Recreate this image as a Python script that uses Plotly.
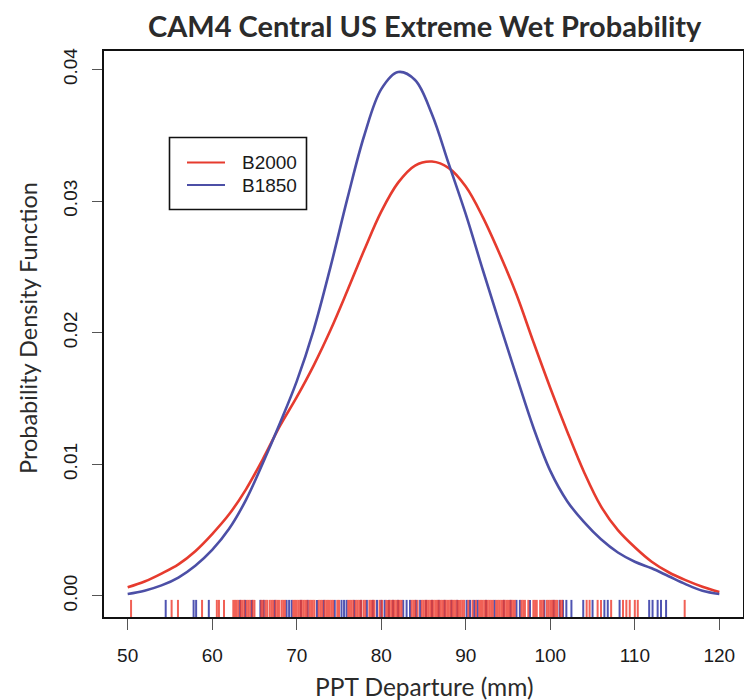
import plotly.graph_objects as go

# ---- Density curves ----
curve_x = [50, 52, 54, 56, 58, 60, 62, 64, 66, 68, 70, 72, 74, 76, 78, 80, 82, 84, 86, 88,
           90, 92, 94, 96, 98, 100, 102, 104, 106, 108, 110, 112, 114, 116, 118, 120]
b2000_y = [0.00066, 0.0011, 0.0017, 0.0024, 0.0034, 0.0047, 0.0062, 0.0081, 0.0104, 0.0129,
           0.0151, 0.0175, 0.0202, 0.0232, 0.0263, 0.0292, 0.0314, 0.0327, 0.0330, 0.0325,
           0.0311, 0.0288, 0.0260, 0.0229, 0.0193, 0.0158, 0.0125, 0.0094, 0.0068, 0.0050,
           0.0037, 0.0026, 0.0018, 0.0012, 0.0007, 0.0003]
b1850_y = [0.00015, 0.0004, 0.0008, 0.0014, 0.0023, 0.0035, 0.0051, 0.0073, 0.0101, 0.0131,
           0.0163, 0.0202, 0.0250, 0.0302, 0.0350, 0.0385, 0.0398, 0.0392, 0.0366, 0.0328,
           0.0290, 0.0248, 0.0207, 0.0167, 0.0128, 0.0095, 0.0072, 0.0056, 0.0043, 0.0033,
           0.0026, 0.0021, 0.0015, 0.0009, 0.0004, 0.00015]

# ---- Rug samples ----
b2000_rug = [50.4, 55.2, 55.95, 58.8, 60.55, 60.8, 61.4,
             62.5, 62.7, 62.9, 63.1, 63.4, 63.6, 63.8, 64.1, 64.3, 64.5, 64.8, 65.0, 65.8,
             66.0, 66.3, 66.5, 66.8, 67.0, 67.2, 67.5, 67.7, 67.9, 68.2, 68.4, 68.6, 69.6,
             69.8, 70.0, 70.2, 70.4, 70.6, 70.8, 71.0, 71.2, 71.5, 71.7, 71.9, 72.1, 72.6,
             72.8, 73.0, 73.3, 73.5, 73.7, 73.9, 74.1, 74.3, 74.8, 75.0, 76.1, 76.3, 76.5,
             76.7, 77.0, 77.2, 77.4, 77.6, 77.9, 78.1, 78.6, 78.8, 79.0, 79.2, 79.8, 80.1,
             80.6, 80.8, 81.0, 81.2, 81.4, 81.6, 81.8, 82.0, 82.2, 82.4, 83.6, 83.8, 84.0,
             84.3, 84.8, 85.0, 85.2, 85.4, 85.6, 85.8, 86.0, 86.2, 86.4, 86.6, 86.8, 87.0,
             87.2, 87.4, 87.6, 87.8, 88.0, 88.2, 88.4, 88.6, 88.8, 89.0, 89.2, 89.4, 89.6,
             89.8, 90.3, 90.8, 91.2, 91.6, 91.8, 92.0, 92.2, 92.4, 92.6, 92.8, 93.0, 93.2,
             93.6, 93.8, 94.0, 94.2, 94.4, 94.6, 94.8, 95.0, 95.2, 95.4, 95.6, 95.8, 96.6,
             96.8, 97.0, 97.4, 98.0, 98.2, 98.4, 98.8, 99.0, 99.2, 99.6, 99.8, 100.0, 100.2,
             100.4, 100.6, 100.8, 101.2, 101.4,
             104.3, 104.65, 105.6, 106.0, 107.2, 108.6, 109.0, 109.4, 110.0, 110.35, 115.9]
b1850_rug = [54.5, 57.8, 58.1, 59.6, 63.3, 63.9, 64.7, 65.7, 66.1, 67.4, 68.8, 69.1, 69.4,
             70.5, 71.3, 72.4, 73.2, 74.5, 75.3, 75.6, 75.9, 76.8, 77.6, 78.3, 79.0, 79.5,
             80.0, 80.4, 80.9, 81.4, 82.0, 82.6, 83.0, 83.4, 84.1, 84.6, 85.3, 86.0, 86.8,
             87.5, 88.3, 89.0, 90.1, 90.5, 91.0, 91.4, 92.4, 93.4, 94.5, 95.3, 96.0, 96.4,
             97.6, 99.3, 100.4, 101.1, 101.5, 101.9, 102.5, 103.9, 105.0, 106.4, 106.8, 108.2,
             111.7, 112.1, 112.7, 113.1, 113.7]

x_ticks = [50, 60, 70, 80, 90, 100, 110, 120]
y_ticks = [0.00, 0.01, 0.02, 0.03, 0.04]
y_tick_text = ["0.00", "0.01", "0.02", "0.03", "0.04"]

RED = "#e63b2e"
BLUE = "#4c4fa6"
RUG_RED = "#ee3a2c"
RUG_BLUE = "#4f54b2"

X_RANGE = [47.2, 122.8]
Y_RANGE = [-0.0016, 0.0414]
RUG_TOP = -0.0003


def rug_xy(vals):
    xs, ys = [], []
    for v in vals:
        xs += [v, v, None]
        ys += [Y_RANGE[0], RUG_TOP, None]
    return xs, ys


fig = go.Figure()
bx, by = rug_xy(b1850_rug)
fig.add_trace(go.Scatter(x=bx, y=by, mode="lines", line=dict(color=RUG_BLUE, width=2.0),
                         hoverinfo="skip", showlegend=False))
rx, ry = rug_xy(b2000_rug)
fig.add_trace(go.Scatter(x=rx, y=ry, mode="lines", line=dict(color=RUG_RED, width=2.0),
                         opacity=0.8, hoverinfo="skip", showlegend=False))

fig.add_trace(go.Scatter(x=curve_x, y=b2000_y, mode="lines", name="B2000",
                         line=dict(color=RED, width=2.6, shape="spline", smoothing=1.0)))
fig.add_trace(go.Scatter(x=curve_x, y=b1850_y, mode="lines", name="B1850",
                         line=dict(color=BLUE, width=2.6, shape="spline", smoothing=1.0)))

# page has an 8px body margin: figure pixel = screen pixel - 8
OFF = 8
L, R, T, B = 104 - OFF, 743 - OFF, 51 - OFF, 617 - OFF
W, H = R - L, B - T


def px(xp):
    return (xp - OFF - L) / W


def py(yp):
    return (B - (yp - OFF)) / H


shapes = [
    dict(type="rect", xref="paper", yref="paper", x0=px(169.5), x1=px(306.5),
         y0=py(209.5), y1=py(137.5), line=dict(color="#111", width=1.6), fillcolor="white"),
    dict(type="line", xref="paper", yref="paper", x0=px(187), x1=px(225),
         y0=py(162.5), y1=py(162.5), line=dict(color=RED, width=2.2)),
    dict(type="line", xref="paper", yref="paper", x0=px(187), x1=px(225),
         y0=py(185), y1=py(185), line=dict(color=BLUE, width=2.2)),
]

annotations = [
    dict(text="B2000", xref="paper", yref="paper", x=px(240), y=py(162.5), xanchor="left",
         yanchor="middle", showarrow=False,
         font=dict(family="Liberation Sans, Arial", size=19, color="#1a1a1a")),
    dict(text="B1850", xref="paper", yref="paper", x=px(240), y=py(185), xanchor="left",
         yanchor="middle", showarrow=False,
         font=dict(family="Liberation Sans, Arial", size=19, color="#1a1a1a")),
    dict(text="<b>CAM4 Central US Extreme Wet Probability</b>", xref="paper", yref="paper",
         x=px(425), y=py(25.5), xanchor="center", yanchor="middle", showarrow=False,
         font=dict(family="Lato, Open Sans", size=29, color="#2b2b2b")),
    dict(text="PPT Departure (mm)", xref="paper", yref="paper",
         x=px(424), y=py(686), xanchor="center", yanchor="middle", showarrow=False,
         font=dict(family="Lato, Open Sans", size=24.5, color="#2b2b2b")),
    dict(text="Probability Density Function", xref="paper", yref="paper",
         x=px(28), y=py(328), xanchor="center", yanchor="middle", showarrow=False,
         textangle=-90,
         font=dict(family="Lato, Open Sans", size=23.5, color="#2b2b2b")),
]

fig.update_layout(
    width=752, height=700,
    margin=dict(l=L, r=752 - R, t=T, b=700 - B),
    paper_bgcolor="white", plot_bgcolor="white",
    showlegend=False,
    shapes=shapes,
    annotations=annotations,
)
fig.update_xaxes(range=X_RANGE, tickvals=x_ticks, ticks="outside", ticklen=11, tickwidth=1.3,
                 tickcolor="#555", showline=True, mirror=True, linecolor="#111", linewidth=2,
                 showgrid=False, zeroline=False, ticklabelstandoff=9,
                 tickfont=dict(family="Liberation Sans, Arial", size=19, color="#1a1a1a"))
fig.update_yaxes(range=Y_RANGE, tickvals=y_ticks, ticktext=y_tick_text, ticks="outside",
                 ticklen=10, tickwidth=1.3, tickcolor="#555", tickangle=-90,
                 showline=True, mirror=True, linecolor="#111", linewidth=2,
                 showgrid=False, zeroline=False, ticklabelstandoff=7,
                 tickfont=dict(family="Liberation Sans, Arial", size=19, color="#1a1a1a"))

fig.write_html("out.html")
